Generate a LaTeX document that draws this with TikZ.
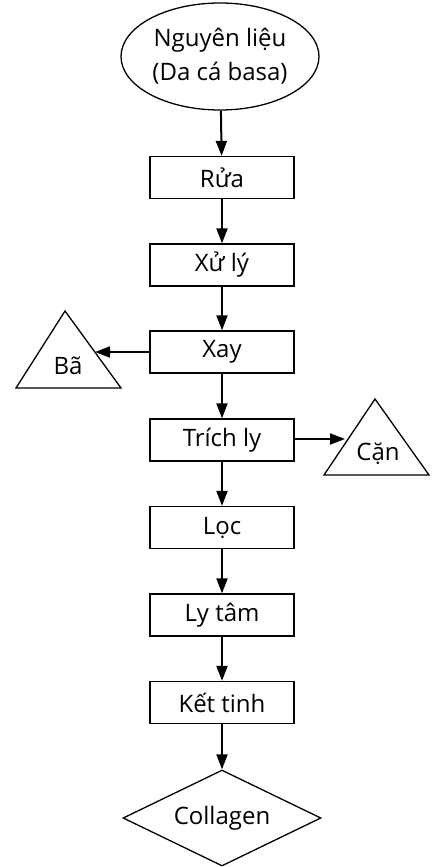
\documentclass[tikz,border=0pt]{standalone}
\usepackage{fontspec}
\setmainfont{Open Sans}
\usetikzlibrary{shapes.geometric,arrows.meta}
\begin{document}
\begin{tikzpicture}[x=1pt,y=-1pt,
  every node/.style={font=\fontsize{24}{34}\selectfont, text=black},
  stepbox/.style={draw, line width=1.3pt, minimum width=144pt, minimum height=42pt, inner sep=0pt},
  flow/.style={line width=2pt, -{Triangle[length=15pt,width=11pt]}},
  shapeline/.style={line width=1.3pt, line join=miter}]
\useasboundingbox (0,0) rectangle (434,867);
\node[draw, ellipse, line width=1.3pt, minimum width=198pt, minimum height=107pt, inner sep=0pt, align=center] (src) at (220,56.5) {Nguyên liệu\\(Da cá basa)};
\node[stepbox] (b1) at (222,177.5) {Rửa};
\node[stepbox] (b2) at (222,265) {Xử lý};
\node[stepbox] (b3) at (222,352) {Xay};
\node[stepbox] (b4) at (222,440) {Trích ly};
\node[stepbox] (b5) at (222,527.5) {Lọc};
\node[stepbox] (b6) at (222,615) {Ly tâm};
\node[stepbox] (b7) at (222,702.5) {Kết tinh};
\node[draw, diamond, line width=1.3pt, minimum width=198pt, minimum height=96pt, inner sep=0pt, aspect=2.06] (out) at (222,818) {Collagen};
% triangles
\draw[shapeline] (65,311) -- (121,388) -- (16,388) -- cycle;
\node (ba) at (68,366) {Bã};
\coordinate (baE) at (95,352);
\draw[shapeline] (375,399) -- (429,475) -- (324,475) -- cycle;
\node (can) at (378,454) {Cặn};
\coordinate (canW) at (345,439);
% connectors
\draw[flow] (src) -- (b1);
\draw[flow] (b1) -- (b2);
\draw[flow] (b2) -- (b3);
\draw[flow] (b3) -- (b4);
\draw[flow] (b4) -- (b5);
\draw[flow] (b5) -- (b6);
\draw[flow] (b6) -- (b7);
\draw[flow] (b7) -- (out);
\draw[flow] (b3.west) -- (baE);
\draw[flow] (b4.east |- canW) -- (canW);
\end{tikzpicture}
\end{document}
